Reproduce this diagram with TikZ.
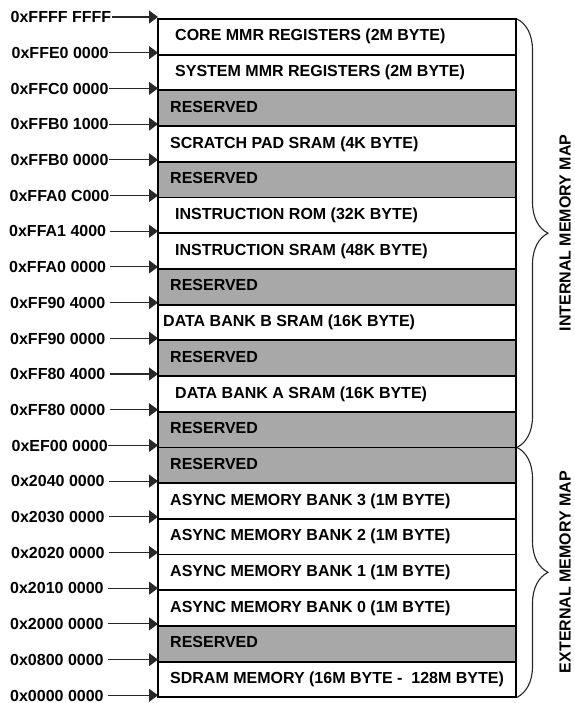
\documentclass[tikz,border=0pt]{standalone}
\usepackage{fontspec}
\setmainfont{Liberation Sans}[BoldFont={Liberation Sans Bold}]
\usetikzlibrary{arrows.meta,decorations.pathreplacing}
\definecolor{resgray}{RGB}{168,168,168}
\definecolor{arrowgray}{RGB}{40,40,40}
\begin{document}
\begin{tikzpicture}[x=1pt,y=-1pt,
  font=\fontsize{16}{19}\selectfont\bfseries,
  cell/.style={draw=black,line width=1.8pt,minimum width=358pt,minimum height=35.7pt,anchor=north west,inner sep=0pt,outer sep=0pt},
  res/.style={cell,fill=resgray},
  mem/.style={cell,fill=white},
  celltext/.style={anchor=base west,inner sep=0pt},
  addr/.style={anchor=base west,inner xsep=0.5pt,inner ysep=0pt},
  addrgap/.style={anchor=base west,inner xsep=4pt,inner ysep=0pt},
  ptr/.style={draw=arrowgray,line width=1.1pt,-{Triangle[length=9pt,width=13pt]}},
  bracestyle/.style={draw=black!85,line width=1.1pt,decorate,decoration={brace,amplitude=31pt}},
  maptext/.style={rotate=90,inner sep=0pt}
]
\useasboundingbox (0,0) rectangle (574,703);

% memory cells
\foreach \k/\st/\xx/\txt in {
  0/mem/175/CORE MMR REGISTERS (2M BYTE),
  1/mem/175/SYSTEM MMR REGISTERS (2M BYTE),
  2/res/170/RESERVED,
  3/mem/170/SCRATCH PAD SRAM (4K BYTE),
  4/res/170/RESERVED,
  5/mem/175/INSTRUCTION ROM (32K BYTE),
  6/mem/175/INSTRUCTION SRAM (48K BYTE),
  7/res/170/RESERVED,
  8/mem/163/DATA BANK B SRAM (16K BYTE),
  9/res/170/RESERVED,
  10/mem/175/DATA BANK A SRAM (16K BYTE),
  11/res/170/RESERVED,
  12/res/170/RESERVED,
  13/mem/170/ASYNC MEMORY BANK 3 (1M BYTE),
  14/mem/170/ASYNC MEMORY BANK 2 (1M BYTE),
  15/mem/170/ASYNC MEMORY BANK 1 (1M BYTE),
  16/mem/170/ASYNC MEMORY BANK 0 (1M BYTE),
  17/res/170/RESERVED,
  18/mem/170/SDRAM MEMORY (16M BYTE -\ \ 128M BYTE)}
{
  \node[\st] (r\k) at (158,{19+35.7*\k}) {};
  \node[celltext] (t\k) at (\xx,{19+35.7*\k+22}) {\txt};
}

% address labels and pointers
\foreach \k/\st/\xx/\txt in {
  0/addr/10/0xFFFF FFFF,
  1/addr/11/0xFFE0 0000,
  2/addr/10/0xFFC0 0000,
  3/addr/10/0xFFB0 1000,
  4/addr/10/0xFFB0 0000,
  5/addr/9/0xFFA0 C000,
  6/addrgap/5/0xFFA1 4000,
  7/addrgap/5/0xFFA0 0000,
  8/addrgap/6/0xFF90 4000,
  9/addrgap/6/0xFF90 0000,
  10/addrgap/6/0xFF80 4000,
  11/addrgap/6/0xFF80 0000,
  12/addr/11/0xEF00 0000,
  13/addrgap/7/0x2040 0000,
  14/addrgap/7/0x2030 0000,
  15/addrgap/7/0x2020 0000,
  16/addrgap/6/0x2010 0000,
  17/addrgap/6/0x2000 0000,
  18/addrgap/6/0x0800 0000,
  19/addrgap/6/0x0000 0000}
{
  \coordinate (p\k) at (158,{19+35.7*\k-2});
  \node[\st] (a\k) at (\xx,{19+35.7*\k+3.7}) {\txt};
  \draw[ptr] (a\k.east |- p\k) -- (p\k);
}

% braces
\coordinate (itop) at (517,19);
\coordinate (imid) at (517,447.4);
\coordinate (ebot) at (517,697.3);
\draw[bracestyle] (itop) -- (imid);
\draw[bracestyle] (imid) -- (ebot);
\node[maptext] (imap) at (565,233) {INTERNAL MEMORY MAP};
\node[maptext] (emap) at (565,572) {EXTERNAL MEMORY MAP};
\end{tikzpicture}
\end{document}
